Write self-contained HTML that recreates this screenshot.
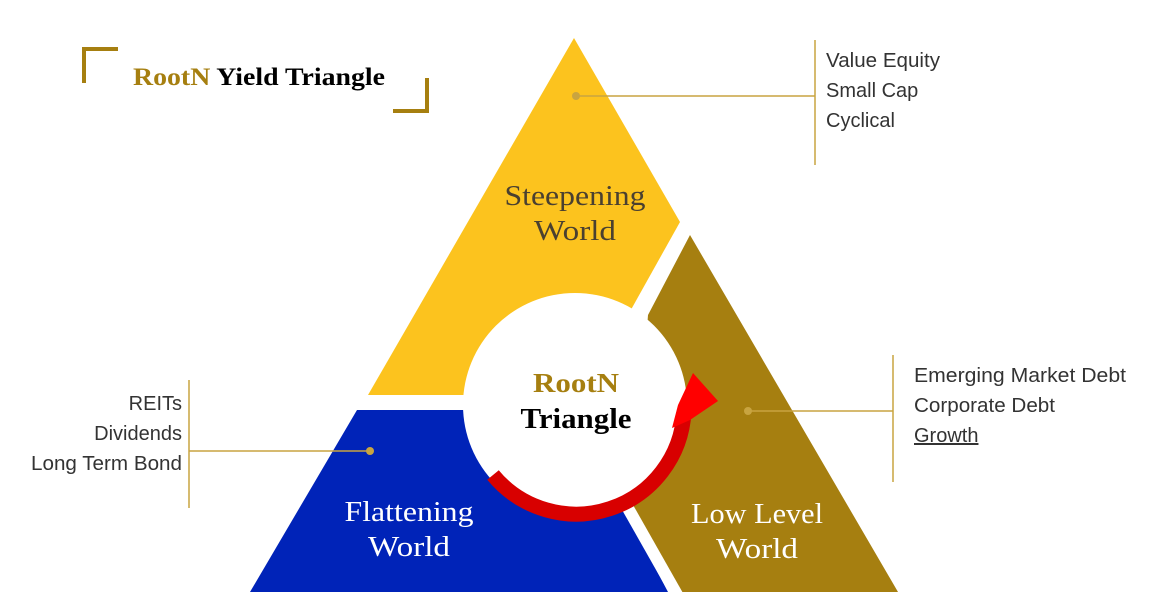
<!DOCTYPE html>
<html><head><style>body{margin:0;background:#fff}svg{display:block}</style></head><body>
<svg width="1156" height="616" viewBox="0 0 1156 616" xmlns="http://www.w3.org/2000/svg">
<rect width="1156" height="616" fill="#fff"/>
<polygon points="574,38 680,222 628,315 480,395 368,395" fill="#FCC31E"/>
<polygon points="357,410 480,410 560,470 622,505 668,592 250,592" fill="#0023B8"/>
<polygon points="690,235 898,592 682,592 625,500 640,420 648,315" fill="#A67F10"/>
<line x1="702" y1="198" x2="618" y2="350" stroke="#fff" stroke-width="12"/>
<line x1="612" y1="480" x2="680" y2="600" stroke="#fff" stroke-width="12"/>
<circle cx="575" cy="405" r="112" fill="#fff"/>
<path d="M 493 475 A 108 108 0 0 0 684 412" fill="none" stroke="#D80000" stroke-width="15"/>
<polygon points="693,373 718,401 690,420 672,428 678,405" fill="#FF0000"/>
<g font-family="Liberation Serif, serif" text-anchor="middle" font-size="29" lengthAdjust="spacingAndGlyphs">
<text x="575" y="205" fill="#4a4030" textLength="141" lengthAdjust="spacingAndGlyphs">Steepening</text>
<text x="575" y="240" fill="#4a4030" textLength="82" lengthAdjust="spacingAndGlyphs">World</text>
<text x="409" y="521" fill="#fff" textLength="129" lengthAdjust="spacingAndGlyphs">Flattening</text>
<text x="409" y="556" fill="#fff" textLength="82" lengthAdjust="spacingAndGlyphs">World</text>
<text x="757" y="523" fill="#fff" textLength="132" lengthAdjust="spacingAndGlyphs">Low Level</text>
<text x="757" y="558" fill="#fff" textLength="82" lengthAdjust="spacingAndGlyphs">World</text>
<text x="576" y="392" font-size="27" font-weight="bold" fill="#A67F10" textLength="86" lengthAdjust="spacingAndGlyphs">RootN</text>
<text x="576" y="428" font-size="28" font-weight="bold" fill="#000" textLength="111" lengthAdjust="spacingAndGlyphs">Triangle</text>
</g>
<g stroke="#C8A440" stroke-width="1.5" fill="none">
<line x1="576" y1="96" x2="815" y2="96"/><line x1="815" y1="40" x2="815" y2="165"/>
<line x1="748" y1="411" x2="893" y2="411"/><line x1="893" y1="355" x2="893" y2="482"/>
<line x1="370" y1="451" x2="189" y2="451"/><line x1="189" y1="380" x2="189" y2="508"/>
</g>
<g fill="#C8A440"><circle cx="576" cy="96" r="4"/><circle cx="748" cy="411" r="4"/><circle cx="370" cy="451" r="4"/></g>
<g font-family="Liberation Sans, sans-serif" font-size="20" fill="#333">
<text x="826" y="67" textLength="114" lengthAdjust="spacingAndGlyphs">Value Equity</text><text x="826" y="97">Small Cap</text><text x="826" y="127">Cyclical</text>
<text x="914" y="382" textLength="212" lengthAdjust="spacingAndGlyphs">Emerging Market  Debt</text><text x="914" y="412" textLength="141" lengthAdjust="spacingAndGlyphs">Corporate Debt</text><text x="914" y="442" text-decoration="underline">Growth</text>
<g text-anchor="end"><text x="182" y="410">REITs</text><text x="182" y="440">Dividends</text><text x="182" y="470" textLength="151" lengthAdjust="spacingAndGlyphs">Long Term Bond</text></g>
</g>
<g stroke="#A67F10" stroke-width="4" fill="none">
<polyline points="118,49 84,49 84,83"/><polyline points="393,111 427,111 427,78"/>
</g>
<text x="133" y="85" font-family="Liberation Serif, serif" font-size="25" font-weight="bold" fill="#000" textLength="252" lengthAdjust="spacingAndGlyphs"><tspan fill="#A67F10">RootN</tspan> Yield Triangle</text>
</svg>
</body></html>
